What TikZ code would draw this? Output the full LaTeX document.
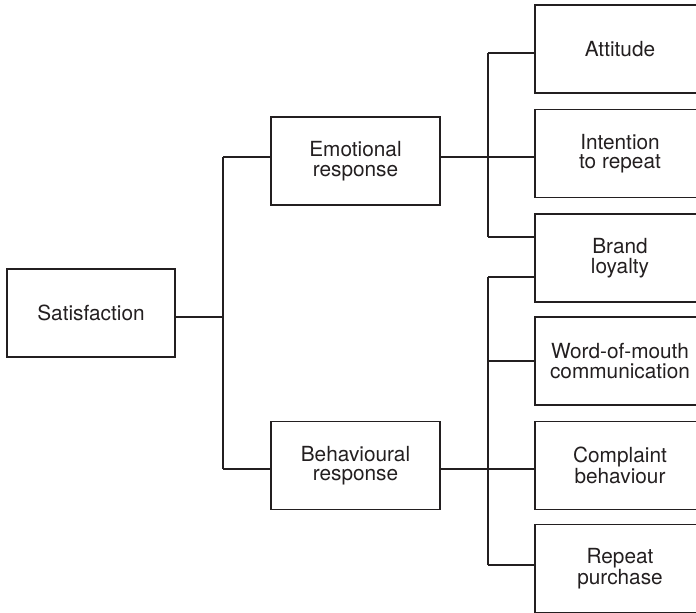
\documentclass[tikz,border=0pt]{standalone}
\usepackage{fontspec}
\setmainfont{TeX Gyre Heros}
\definecolor{ink}{HTML}{231F20}
\begin{document}
\begin{tikzpicture}[x=1pt,y=-1pt,
  box/.style={draw=ink, line width=1.2pt, text=ink, minimum width=169pt,
    minimum height=88pt, inner sep=0pt, align=center,
    font=\fontsize{20.8}{19.6}\selectfont},
  link/.style={draw=ink, line width=1.2pt}]
\useasboundingbox (0,0) rectangle (696,613);
\clip (0,0) rectangle (696,613);

% first level
\node[box, minimum width=168pt] (sat) at (91,313) {Satisfaction};
% second level
\node[box] (emo) at (355.5,161) {Emotional\\response};
\node[box] (beh) at (355.5,465.5) {Behavioural\\response};
% third level (right column runs past the page edge)
\node[box, minimum width=170pt] (att) at (620,49) {Attitude};
\node[box, minimum width=170pt] (int) at (620,153.5) {Intention\\to repeat};
\node[box, minimum width=170pt] (bra) at (620,258) {Brand\\loyalty};
\node[box, minimum width=170pt] (wom) at (620,361) {Word-of-mouth\\communication};
\node[box, minimum width=170pt] (com) at (620,465.5) {Complaint\\behaviour};
\node[box, minimum width=170pt] (rep) at (620,568.5) {Repeat\\purchase};

% junction points
\coordinate (j0) at (223,317);
\coordinate (j0a) at (223,157);
\coordinate (j0b) at (223,469);
\coordinate (e0) at (488,157);
\coordinate (e1) at (488,53);
\coordinate (e2) at (488,237);
\coordinate (b0) at (488,469);
\coordinate (b1) at (488,277);
\coordinate (b2) at (488,361);
\coordinate (b3) at (488,565);

% satisfaction branches
\draw[link] (sat.east |- j0) -- (j0);
\draw[link] (j0a) -- (j0b);
\draw[link] (j0a) -- (emo.west |- j0a);
\draw[link] (j0b) -- (beh.west |- j0b);

% emotional response branches
\draw[link] (emo.east |- e0) -- (int.west |- e0);
\draw[link] (e1) -- (e2);
\draw[link] (e1) -- (att.west |- e1);
\draw[link] (e2) -- (bra.west |- e2);

% behavioural response branches
\draw[link] (beh.east |- b0) -- (com.west |- b0);
\draw[link] (b1) -- (b3);
\draw[link] (b1) -- (bra.west |- b1);
\draw[link] (b2) -- (wom.west |- b2);
\draw[link] (b3) -- (rep.west |- b3);
\end{tikzpicture}
\end{document}
